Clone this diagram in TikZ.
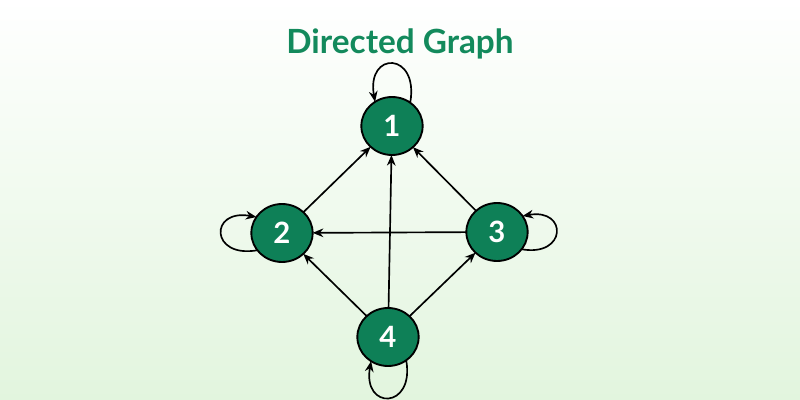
\documentclass[tikz,border=0pt]{standalone}
\usepackage{fontspec}
\setmainfont{Lato}
\usepackage{tikz}
\usetikzlibrary{shapes.geometric,arrows.meta}

\definecolor{gfgGreen}{HTML}{0E8057}
\definecolor{titleGreen}{HTML}{138A5C}
\definecolor{bgGreen}{HTML}{E2F5DE}

\begin{document}
\begin{tikzpicture}[x=0.75pt,y=0.75pt,
    vertex/.style={ellipse, draw=black, line width=1.4pt, fill=gfgGreen,
      minimum width=46pt, minimum height=43.5pt, inner sep=0pt, outer sep=0pt,
      text=white, font=\bfseries\fontsize{22}{22}\selectfont},
    link/.style={->, line width=1.25pt},
    >={Stealth[length=8pt,width=6.5pt]}]
  \shade[top color=white, bottom color=bgGreen] (0,0) rectangle (800,400);
  \useasboundingbox (0,0) rectangle (800,400);
  \node[text=titleGreen, font=\bfseries\fontsize{25}{25}\selectfont] (title) at (400,356) {Directed Graph};
  \node[vertex] (n1) at (392,274) {1};
	\node[vertex] (n2) at (282,167) {2};
  \node[vertex] (n3) at (497,168) {3};
  \node[vertex] (n4) at (388,63) {4};
  % edges
  \draw[link] (n2) -- (n1);
  \draw[link] (n3) -- (n1);
  \draw[link] (n4) -- (n1);
  \draw[link] (n3) -- (n2);
  \draw[link] (n4) -- (n2);
  \draw[link] (n4) -- (n3);
  % self loops
  \draw[link] (n1.52) .. controls +(80:52) and +(100:52) .. (n1.125);
  \draw[link] (n2.215) .. controls +(190:48) and +(170:48) .. (n2.148);
  \draw[link] (n3.-35) .. controls +(-10:46) and +(10:46) .. (n3.32);
  \draw[link] (n4.-52) .. controls +(-80:50) and +(-100:50) .. (n4.-125);
\end{tikzpicture}
\end{document}
